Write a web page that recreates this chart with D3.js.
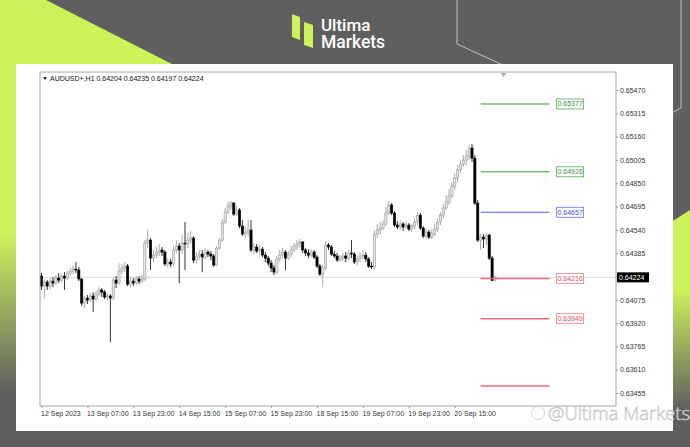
<!DOCTYPE html>
<html><head><meta charset="utf-8">
<script src="https://cdn.jsdelivr.net/npm/d3@7"></script>
<style>html,body{margin:0;padding:0;background:#5f5f5f;} svg{display:block}</style>
</head><body>
<svg id="c" width="690" height="447"></svg>
<script>
// ---------------- DATA ----------------
const symbolTitle = "AUDUSD+,H1";
const open = [
.64233,.64166,.64193,.64166,.64199,.64186,.64219,.64206,.64233,.64219,
.64253,.64266,.64279,.64273,.64213,.64053,.64086,.64073,.64100,.64080,
.64113,.64140,.64126,.64093,.64100,.64086,.64206,.64186,.64266,.64286,
.64299,.64179,.64199,.64186,.64213,.64199,.64213,.64452,.64472,.64352,
.64372,.64392,.64406,.64392,.64313,.64326,.64313,.64406,.64432,.64406,
.64452,.64446,.64472,.64485,.64339,.64366,.64379,.64359,.64392,.64379,
.64366,.64306,.64419,.64472,.64592,.64658,.64698,.64718,.64645,.64672,
.64565,.64512,.64525,.64539,.64406,.64426,.64399,.64412,.64372,.64352,
.64319,.64286,.64259,.64346,.64372,.64392,.64352,.64379,.64406,.64432,
.64446,.64459,.64406,.64386,.64372,.64392,.64359,.64299,.64246,.64286,
.64439,.64426,.64379,.64366,.64339,.64352,.64366,.64352,.64386,.64379,
.64326,.64346,.64366,.64372,.64346,.64299,.64293,.64512,.64539,.64552,
.64579,.64652,.64705,.64652,.64572,.64559,.64579,.64559,.64572,.64545,
.64565,.64592,.64638,.64552,.64499,.64525,.64492,.64512,.64545,.64592,
.64638,.64685,.64725,.64765,.64831,.64884,.64938,.64977,.65004,.65031,
.65084,.65017,.64718,.64472,.64492,.64479,.64505,.64352,.64204];
const high = [
.64253,.64213,.64206,.64219,.64226,.64239,.64253,.64246,.64259,.64266,
.64286,.64306,.64326,.64293,.64219,.64100,.64106,.64120,.64126,.64133,
.64159,.64153,.64140,.64120,.64113,.64226,.64233,.64319,.64313,.64326,
.64313,.64226,.64219,.64233,.64233,.64239,.64472,.64539,.64485,.64406,
.64432,.64446,.64426,.64406,.64352,.64346,.64432,.64472,.64452,.64512,
.64592,.64519,.64532,.64499,.64392,.64406,.64406,.64419,.64406,.64399,
.64379,.64432,.64485,.64612,.64685,.64731,.64731,.64725,.64698,.64685,
.64605,.64565,.64605,.64605,.64452,.64446,.64439,.64426,.64392,.64366,
.64339,.64306,.64366,.64406,.64419,.64406,.64399,.64432,.64452,.64472,
.64479,.64465,.64419,.64412,.64412,.64406,.64372,.64313,.64306,.64465,
.64452,.64439,.64399,.64386,.64372,.64386,.64392,.64406,.64472,.64392,
.64372,.64392,.64406,.64392,.64359,.64326,.64539,.64579,.64592,.64605,
.64692,.64731,.64718,.64665,.64598,.64605,.64592,.64598,.64585,.64579,
.64618,.64658,.64652,.64565,.64545,.64539,.64545,.64579,.64618,.64658,
.64711,.64771,.64811,.64858,.64918,.64971,.65004,.65037,.65071,.65104,
.65110,.65037,.64738,.64512,.64512,.64519,.64512,.64366,.64235];
const low = [
.64140,.64086,.64140,.64146,.64159,.64173,.64186,.64193,.64140,.64206,
.64233,.64246,.64253,.64199,.64033,.64020,.64047,.64060,.63994,.64067,
.64100,.64093,.64080,.64073,.63794,.64073,.64153,.64173,.64246,.64259,
.64166,.64159,.64166,.64173,.64179,.64186,.64199,.64419,.64273,.64326,
.64352,.64366,.64366,.64299,.64286,.64293,.64299,.64386,.64186,.64379,
.64273,.64419,.64446,.64319,.64313,.64339,.64259,.64346,.64359,.64339,
.64293,.64299,.64406,.64459,.64579,.64645,.64672,.64632,.64632,.64552,
.64499,.64485,.64499,.64392,.64379,.64386,.64372,.64359,.64326,.64299,
.64259,.64239,.64246,.64326,.64352,.64273,.64339,.64359,.64392,.64406,
.64419,.64386,.64366,.64352,.64359,.64346,.64286,.64233,.64159,.64273,
.64406,.64366,.64352,.64326,.64326,.64332,.64326,.64339,.64352,.64313,
.64306,.64326,.64346,.64326,.64286,.64279,.64279,.64485,.64512,.64539,
.64565,.64638,.64638,.64559,.64545,.64539,.64532,.64545,.64532,.64525,
.64545,.64572,.64539,.64485,.64485,.64479,.64479,.64499,.64525,.64572,
.64618,.64672,.64705,.64751,.64805,.64858,.64918,.64957,.64971,.65004,
.64991,.64705,.64459,.64406,.64419,.64439,.64339,.64199,.64197];
const close = [
.64166,.64193,.64166,.64199,.64186,.64219,.64206,.64233,.64219,.64253,
.64266,.64279,.64273,.64213,.64053,.64086,.64073,.64100,.64080,.64113,
.64140,.64126,.64093,.64100,.64086,.64206,.64186,.64266,.64286,.64299,
.64179,.64199,.64186,.64213,.64199,.64213,.64452,.64472,.64352,.64372,
.64392,.64406,.64392,.64313,.64326,.64313,.64406,.64432,.64406,.64452,
.64446,.64472,.64485,.64339,.64366,.64379,.64359,.64392,.64379,.64366,
.64306,.64419,.64472,.64592,.64658,.64698,.64718,.64645,.64672,.64565,
.64512,.64525,.64539,.64406,.64426,.64399,.64412,.64372,.64352,.64319,
.64286,.64259,.64346,.64372,.64392,.64352,.64379,.64406,.64432,.64446,
.64459,.64406,.64386,.64372,.64392,.64359,.64299,.64246,.64286,.64439,
.64426,.64379,.64366,.64339,.64352,.64366,.64352,.64386,.64379,.64326,
.64346,.64366,.64372,.64346,.64299,.64293,.64512,.64539,.64552,.64579,
.64652,.64705,.64652,.64572,.64559,.64579,.64559,.64572,.64545,.64565,
.64592,.64638,.64552,.64499,.64525,.64492,.64512,.64545,.64592,.64638,
.64685,.64725,.64765,.64831,.64884,.64938,.64977,.65004,.65031,.65084,
.65017,.64718,.64472,.64492,.64479,.64505,.64352,.64204,.64224];

const timeLabels = ["12 Sep 2023","13 Sep 07:00","13 Sep 23:00","14 Sep 15:00","15 Sep 07:00",
                    "15 Sep 23:00","18 Sep 15:00","19 Sep 07:00","19 Sep 23:00","20 Sep 15:00"];
const timeLabelBars = [0,16,32,48,64,80,96,112,128,144];
const priceTicks = [0.65470,0.65315,0.65160,0.65005,0.64850,0.64695,0.64540,0.64385,0.64230,
                    0.64075,0.63920,0.63765,0.63610,0.63455];
const levelPrices = [0.65377,0.64926,0.64657,0.64216,0.63949,0.63502];
const levelLabels = ["0.65377","0.64926","0.64657","0.64216","0.63949",""];
const levelKinds  = ["green","green","blue","red","red","red"];
const levelBarStart = 153, levelBarEnd = 177, levelLabelBar = 179.5;
const shiftBar = 161;

// ---------------- DRAW ----------------
const svg = d3.select("#c");
const W = 690, H = 447;
const GRAY = "#5f5f5f", LIME = "#cdf35b";
const defs = svg.append("defs");
const gl = defs.append("linearGradient").attr("id","gl").attr("x1",0).attr("y1",0).attr("x2",0).attr("y2",1);
gl.append("stop").attr("offset","0").attr("stop-color",LIME);
gl.append("stop").attr("offset","0.52").attr("stop-color",LIME);
gl.append("stop").attr("offset","0.88").attr("stop-color",GRAY);
const gr = defs.append("linearGradient").attr("id","gr").attr("gradientUnits","userSpaceOnUse")
  .attr("x1",0).attr("y1",200).attr("x2",0).attr("y2",410);
gr.append("stop").attr("offset","0").attr("stop-color",LIME);
gr.append("stop").attr("offset","0.42").attr("stop-color",LIME);
gr.append("stop").attr("offset","1").attr("stop-color",GRAY);

svg.append("rect").attr("width",W).attr("height",H).attr("fill",GRAY);
svg.append("path").attr("d","M0,0 L46,0 L420,190 L0,447 Z").attr("fill","url(#gl)");
svg.append("path").attr("d","M640,242 L690,210 L690,447 L640,447 Z").attr("fill","url(#gr)");
// thin decorative lines
svg.append("path").attr("d","M457,0 L457,44 L540,82").attr("fill","none").attr("stroke","#d8d8d8").attr("stroke-width",0.8);
svg.append("path").attr("d","M681,0 L681,108 L662,118").attr("fill","none").attr("stroke","#d8d8d8").attr("stroke-width",0.8);

// logo
svg.append("path").attr("d","M292,14 L300,17 L300,40 L292,37 Z").attr("fill",LIME);
svg.append("path").attr("d","M304,22 L313,25 L313,48 L304,45 Z").attr("fill",LIME);
const logo = svg.append("text").attr("fill","#fff").attr("font-family","Roboto").attr("font-weight",500);
logo.append("tspan").attr("x",321).attr("y",30.5).attr("font-size",17).text("Ultima");
logo.append("tspan").attr("x",321).attr("y",48).attr("font-size",17.5).text("Markets");

// white panel
svg.append("rect").attr("x",16).attr("y",64).attr("width",657).attr("height",367).attr("fill","#fff");

// scales
const x = d3.scaleLinear().domain([0,200]).range([41.5,615.5]);
const y = d3.scaleLinear().domain([0.63455,0.65470]).range([393,90]);
const L = 40, R = 616, T = 72, B = 406;
const font = "'Liberation Sans', Arial, sans-serif";

// current price line
const cur = close[close.length-1];
svg.append("line").attr("x1",L).attr("x2",R).attr("y1",y(cur)).attr("y2",y(cur)).attr("stroke","#d6d6d6").attr("stroke-width",0.8);

// candles
const data = close.map((c,i)=>({i,o:open[i],h:high[i],l:low[i],c}));
const g = svg.append("g");
g.selectAll("line.w").data(data).join("line").attr("class","w")
  .attr("x1",d=>x(d.i)).attr("x2",d=>x(d.i)).attr("y1",d=>y(d.h)).attr("y2",d=>y(d.l))
  .attr("stroke",d=>d.c>=d.o?"#a2a2a2":"#1a1a1a").attr("stroke-width",0.9);
g.selectAll("rect.b").data(data).join("rect").attr("class","b")
  .attr("x",d=>x(d.i)-1.1).attr("width",2.2)
  .attr("y",d=>y(Math.max(d.o,d.c))).attr("height",d=>Math.max(0.8,Math.abs(y(d.o)-y(d.c))))
  .attr("fill",d=>d.c>=d.o?"#e4e4e4":"#000")
  .attr("stroke",d=>d.c>=d.o?"#9c9c9c":"#000").attr("stroke-width",0.6);

// level lines
const levelColor = {green:"#3f9c3f", blue:"#5b5bef", red:"#ee6b78"};
const levelText = {green:"#3a8f3a", blue:"#4a4ae8", red:"#e04f60"};
levelPrices.forEach((p,k)=>{
  const kind = levelKinds[k];
  svg.append("line").attr("x1",x(levelBarStart)).attr("x2",x(levelBarEnd))
    .attr("y1",y(p)).attr("y2",y(p)).attr("stroke",levelColor[kind]).attr("stroke-width",kind==="red"?1.6:1);
  if(levelLabels[k]){
    const bx = x(levelLabelBar);
    svg.append("rect").attr("x",bx).attr("y",y(p)-5).attr("width",27).attr("height",10)
      .attr("fill","#fff").attr("stroke",levelColor[kind]).attr("stroke-width",0.7);
    svg.append("text").attr("x",bx+13.5).attr("y",y(p)+2.5).attr("text-anchor","middle")
      .attr("font-family",font).attr("font-size",7).attr("fill",levelText[kind]).text(levelLabels[k]);
  }
});

// frame
svg.append("path").attr("d",`M${L},${B} L${L},${T} L${R},${T} L${R},${B} L${L},${B}`)
  .attr("fill","none").attr("stroke","#9a9a9a").attr("stroke-width",0.9);

// price axis
const ya = d3.axisRight(y).tickValues(priceTicks).tickSize(2).tickPadding(2).tickFormat(d3.format(".5f"));
const yg = svg.append("g").attr("transform",`translate(${R},0)`).call(ya);
yg.select(".domain").remove();
yg.selectAll("line").attr("stroke","#9a9a9a");
yg.selectAll("text").attr("font-family",font).attr("font-size",7).attr("fill","#333");

// current price box
svg.append("rect").attr("x",R+1).attr("y",y(cur)-5).attr("width",32).attr("height",10).attr("fill","#000");
svg.append("text").attr("x",R+3).attr("y",y(cur)+2.5).attr("font-family",font).attr("font-size",7).attr("fill","#fff").text(cur.toFixed(5));

// time axis
const xa = d3.axisBottom(x).tickValues(timeLabelBars).tickSize(2).tickPadding(3).tickFormat((d,i)=>timeLabels[i]);
const xg = svg.append("g").attr("transform",`translate(0,${B})`).call(xa);
xg.select(".domain").remove();
xg.selectAll("line").attr("stroke","#9a9a9a");
xg.selectAll("text").attr("font-family",font).attr("font-size",7).attr("fill","#333").attr("text-anchor","start").attr("dx",-1);

// header
svg.append("path").attr("d","M43,77 L47,77 L45,80 Z").attr("fill","#222");
const last = close.length-1;
svg.append("text").attr("x",50).attr("y",81).attr("font-family",font).attr("font-size",7).attr("fill","#111")
  .text(`${symbolTitle}  ${open[last].toFixed(5)} ${high[last].toFixed(5)} ${low[last].toFixed(5)} ${close[last].toFixed(5)}`);

// shift marker
svg.append("path").attr("d",`M${x(shiftBar)-3},${T+1} L${x(shiftBar)+3},${T+1} L${x(shiftBar)},${T+5} Z`).attr("fill","#b0b0b0");

// watermark
svg.append("circle").attr("cx",538).attr("cy",413).attr("r",6.5).attr("fill","none").attr("stroke","#d4d4d4").attr("stroke-width",1);
svg.append("text").attr("x",548).attr("y",420).attr("font-family","'Open Sans'").attr("font-weight",300).attr("font-size",18.5)
  .attr("fill","#fff").attr("stroke","#b8b8b8").attr("stroke-width",0.5).text("@Ultima Markets");
</script>
</body></html>
